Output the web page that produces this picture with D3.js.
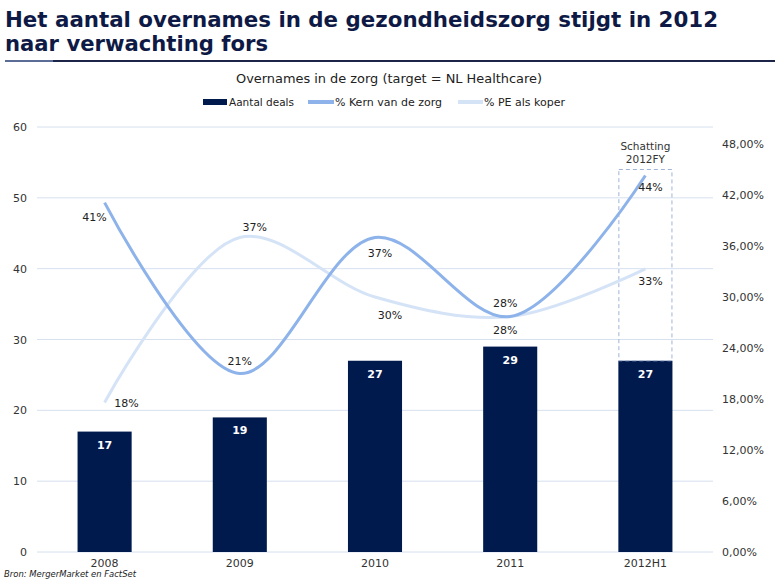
<!DOCTYPE html>
<html>
<head>
    <meta charset="utf-8">
    <script src="https://d3js.org/d3.v7.min.js"></script>
    <style type="text/css">
        body { margin: 0; background: #fff; }
        svg text { font-family: Verdana, "DejaVu Sans", sans-serif; }
    </style>
</head>
<body>
    <script type="text/javascript">

        // chart size
        var w = 779;
        var h = 583;

        // data
        var categories = ["2008", "2009", "2010", "2011", "2012H1"];
        var dealCounts = [17, 19, 27, 29, 27];
        var kernPct = [41.1, 21.0, 37.0, 27.7, 44.3];
        var pePct = [17.6, 37.0, 30.0, 27.7, 33.3];
        var estimateFY = [null, null, null, null, 54];
        var leftTicks = [0, 10, 20, 30, 40, 50, 60];
        var rightTicks = [0, 6, 12, 18, 24, 30, 36, 42, 48];

        // where the percent labels sit relative to their point
        var kernLabelPos = [[-10, 18], [0, -9], [5, 19], [-5, -10], [5, 16]];
        var peLabelPos = [[22, 5], [15, -7], [15, 22], [-5, 17], [5, 16]];

        var navy = "#001a4e";
        var kernColor = "#8db3ea";
        var peColor = "#d5e3f7";
        var gridColor = "#d6e0ef";
        var textColor = "#333333";

        var plot = { left: 37, right: 713, top: 127, bottom: 552 };

        var svg = d3.select("body")
            .append("svg")
            .attr("width", w)
            .attr("height", h);

        // title
        var title = svg.append("g").attr("fill", "#0e1a45")
            .attr("font-weight", "bold").attr("font-size", 21);
        title.append("text").attr("x", 5).attr("y", 27)
            .attr("textLength", 713).attr("lengthAdjust", "spacingAndGlyphs")
            .text("Het aantal overnames in de gezondheidszorg stijgt in 2012");
        title.append("text").attr("x", 5).attr("y", 51)
            .attr("textLength", 263).attr("lengthAdjust", "spacingAndGlyphs")
            .text("naar verwachting fors");

        svg.append("line").attr("x1", 5).attr("x2", 775).attr("y1", 61).attr("y2", 61)
            .attr("stroke", "#1c2548").attr("stroke-width", 2);
        svg.append("line").attr("x1", 5).attr("x2", 53).attr("y1", 61).attr("y2", 61)
            .attr("stroke", "#5b6c96").attr("stroke-width", 2);

        // subtitle
        svg.append("text").attr("x", 389).attr("y", 83)
            .attr("text-anchor", "middle").attr("font-size", 13).attr("fill", "#222")
            .attr("textLength", 306).attr("lengthAdjust", "spacingAndGlyphs")
            .text("Overnames in de zorg (target = NL Healthcare)");

        // legend
        var legend = svg.append("g").attr("font-size", 11).attr("fill", "#222");
        legend.append("rect").attr("x", 203).attr("y", 99).attr("width", 24).attr("height", 6).attr("fill", navy);
        legend.append("text").attr("x", 229).attr("y", 106)
            .attr("textLength", 65).attr("lengthAdjust", "spacingAndGlyphs").text("Aantal deals");
        legend.append("line").attr("x1", 308).attr("x2", 334).attr("y1", 102).attr("y2", 102)
            .attr("stroke", kernColor).attr("stroke-width", 4);
        legend.append("text").attr("x", 335).attr("y", 106)
            .attr("textLength", 107).attr("lengthAdjust", "spacingAndGlyphs").text("% Kern van de zorg");
        legend.append("line").attr("x1", 458).attr("x2", 483).attr("y1", 102).attr("y2", 102)
            .attr("stroke", peColor).attr("stroke-width", 4);
        legend.append("text").attr("x", 484).attr("y", 106)
            .attr("textLength", 81).attr("lengthAdjust", "spacingAndGlyphs").text("% PE als koper");

        // scales
        var xScale = d3.scaleBand()
            .domain(categories)
            .range([plot.left, plot.right])
            .paddingInner(0.6)
            .paddingOuter(0.3);

        var yLeft = d3.scaleLinear().domain([0, 60]).range([plot.bottom, plot.top]);
        var yRight = d3.scaleLinear().domain([0, 50]).range([plot.bottom, plot.top]);

        var cx = function(i) { return xScale(categories[i]) + xScale.bandwidth() / 2; };

        // gridlines
        svg.append("g").selectAll("line")
            .data(leftTicks)
            .enter()
            .append("line")
            .attr("x1", plot.left).attr("x2", plot.right)
            .attr("y1", function(d) { return yLeft(d); })
            .attr("y2", function(d) { return yLeft(d); })
            .attr("stroke", gridColor).attr("stroke-width", 1);

        // axes
        var leftAxis = svg.append("g")
            .attr("transform", "translate(" + plot.left + ",0)")
            .call(d3.axisLeft(yLeft).tickValues(leftTicks).tickSize(0).tickPadding(10));
        var rightAxis = svg.append("g")
            .attr("transform", "translate(" + plot.right + ",0)")
            .call(d3.axisRight(yRight).tickValues(rightTicks).tickSize(0).tickPadding(9)
                .tickFormat(function(d) { return d3.format(".2f")(d).replace(".", ",") + "%"; }));
        var bottomAxis = svg.append("g")
            .attr("transform", "translate(0," + plot.bottom + ")")
            .call(d3.axisBottom(xScale).tickSize(0).tickPadding(7));

        [leftAxis, rightAxis, bottomAxis].forEach(function(a) {
            a.select(".domain").remove();
            a.selectAll("text")
                .attr("font-family", "Verdana, 'DejaVu Sans', sans-serif")
                .attr("font-size", 11)
                .attr("fill", textColor);
        });

        // bars
        svg.append("g").selectAll("rect")
            .data(dealCounts)
            .enter()
            .append("rect")
            .attr("x", function(d, i) { return xScale(categories[i]); })
            .attr("y", function(d) { return yLeft(d); })
            .attr("width", xScale.bandwidth())
            .attr("height", function(d) { return plot.bottom - yLeft(d); })
            .attr("fill", navy);

        svg.append("g").selectAll("text")
            .data(dealCounts)
            .enter()
            .append("text")
            .attr("x", function(d, i) { return cx(i); })
            .attr("y", function(d) { return yLeft(d) + 17; })
            .attr("text-anchor", "middle")
            .attr("font-size", 11)
            .attr("font-weight", "bold")
            .attr("fill", "#ffffff")
            .text(function(d) { return d; });

        // full year estimate box
        estimateFY.forEach(function(d, i) {
            if (d === null) return;
            var x0 = xScale(categories[i]);
            svg.append("rect")
                .attr("x", x0 + 0.5)
                .attr("y", yLeft(d))
                .attr("width", xScale.bandwidth() - 1)
                .attr("height", yLeft(dealCounts[i]) - yLeft(d))
                .attr("fill", "none")
                .attr("stroke", "#9fb4d6")
                .attr("stroke-width", 1)
                .attr("stroke-dasharray", "4,3");
            var t = svg.append("text")
                .attr("x", cx(i))
                .attr("text-anchor", "middle")
                .attr("font-size", 10.5)
                .attr("fill", textColor);
            t.append("tspan").attr("x", cx(i)).attr("y", yLeft(d) - 20).text("Schatting");
            t.append("tspan").attr("x", cx(i)).attr("y", yLeft(d) - 7).text("2012FY");
        });

        // lines
        var line = d3.line()
            .x(function(d, i) { return cx(i); })
            .y(function(d) { return yRight(d); })
            .curve(d3.curveCatmullRom.alpha(0.5));

        svg.append("path").datum(pePct)
            .attr("d", line)
            .attr("fill", "none")
            .attr("stroke", peColor)
            .attr("stroke-width", 3);

        svg.append("path").datum(kernPct)
            .attr("d", line)
            .attr("fill", "none")
            .attr("stroke", kernColor)
            .attr("stroke-width", 3);

        // percent labels
        var drawLabels = function(values, pos) {
            svg.append("g").selectAll("text")
                .data(values)
                .enter()
                .append("text")
                .attr("x", function(d, i) { return cx(i) + pos[i][0]; })
                .attr("y", function(d, i) { return yRight(d) + pos[i][1]; })
                .attr("text-anchor", "middle")
                .attr("font-size", 11)
                .attr("fill", "#222")
                .text(function(d) { return Math.round(d) + "%"; });
        };
        drawLabels(kernPct, kernLabelPos);
        drawLabels(pePct, peLabelPos);

        // source
        svg.append("text").attr("x", 4).attr("y", 577)
            .attr("font-size", 9).attr("font-style", "italic").attr("fill", "#222")
            .attr("textLength", 132).attr("lengthAdjust", "spacingAndGlyphs")
            .text("Bron: MergerMarket en FactSet");

    </script>
</body>
</html>
